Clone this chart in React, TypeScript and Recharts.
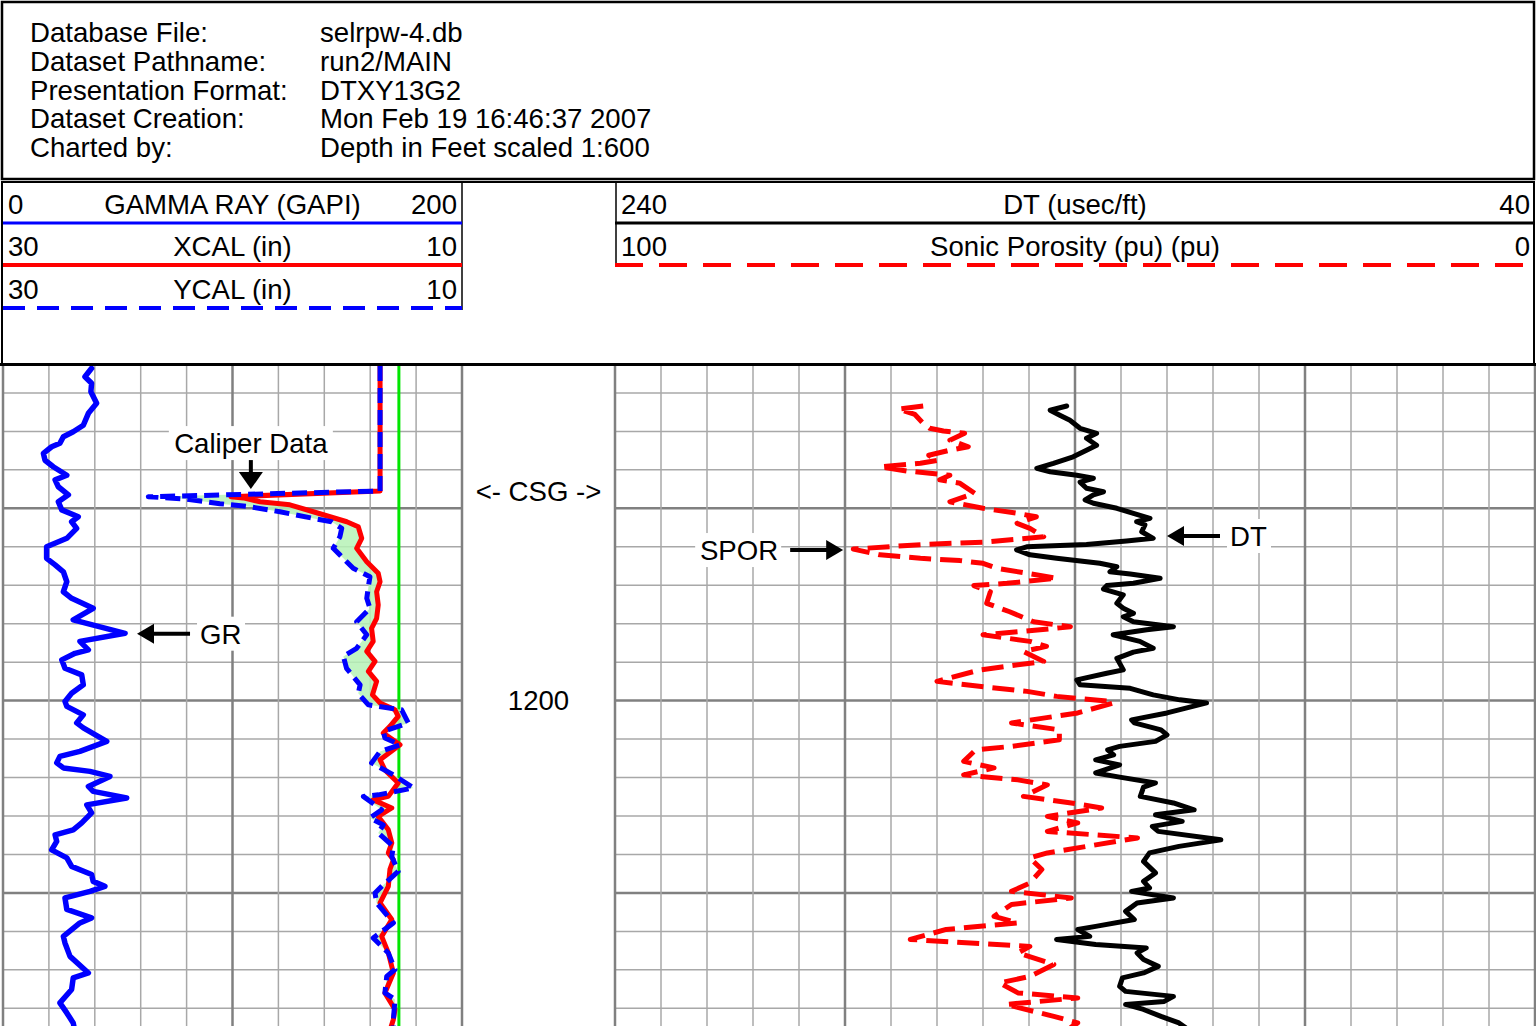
import React from 'react';
import { ScatterChart, Scatter, XAxis, YAxis, ReferenceLine, ReferenceDot } from 'recharts';

const FONT = '"Liberation Sans", Arial, Helvetica, sans-serif';
const BLUE = '#0000ff';
const RED = '#ff0000';
const GREEN = '#00e600';
const LIGHT = '#a8a8a8';
const DARK = '#808080';

// dataset header block
const headerLabels = ['Database File:', 'Dataset Pathname:', 'Presentation Format:', 'Dataset Creation:', 'Charted by:'];
const headerValues = ['selrpw-4.db', 'run2/MAIN', 'DTXY13G2', 'Mon Feb 19 16:46:37 2007', 'Depth in Feet scaled 1:600'];

// depth axis (feet)
const DEPTH_RANGE: [number, number] = [1113.0, 1284.6];
const depthTicks = [1120, 1130, 1140, 1150, 1160, 1170, 1180, 1190, 1200, 1210, 1220, 1230, 1240, 1250, 1260, 1270, 1280];
const depthMajor = [1150, 1200, 1250];
const depthNumbers = [1200];
const CASING_SHOE = 1145.5;
const BIT_SIZE = 12.75;

const grTicks = [0, 20, 40, 60, 80, 100, 120, 140, 160, 180, 200];
const grMajor = [0, 100, 200];
const dtTicks = [40, 50, 60, 70, 80, 90, 100, 110, 120, 130, 140, 150, 160, 170, 180, 190, 200, 210, 220, 230, 240];
const dtMajor = [40, 90, 140, 190, 240];

// [depth, value]
const grLog = [
  [1113.6, 38.6], [1115.8, 35.7], [1117.5, 38.6], [1119.7, 38.3], [1122.7, 40.8], [1125.3, 37.2], [1128.4, 35.0],
  [1130.1, 30.6], [1131.4, 26.3], [1133.1, 24.8], [1134.0, 21.2], [1135.7, 17.6], [1137.5, 18.3], [1139.2, 21.9],
  [1141.4, 27.8], [1142.6, 22.7], [1144.4, 24.1], [1146.5, 28.5], [1148.3, 24.1], [1150.4, 25.6], [1152.2, 32.8],
  [1153.5, 29.9], [1155.2, 32.1], [1157.8, 27.8], [1160.0, 19.0], [1163.0, 19.0], [1164.7, 22.7], [1166.5, 26.3],
  [1169.1, 27.8], [1171.7, 26.3], [1173.4, 29.9], [1176.0, 39.3], [1179.0, 30.6], [1182.5, 53.2], [1184.6, 33.5],
  [1186.8, 37.2], [1187.7, 31.4], [1189.4, 25.6], [1191.6, 27.0], [1193.3, 34.3], [1195.9, 35.0], [1198.1, 29.9],
  [1200.2, 27.0], [1201.5, 27.8], [1203.7, 35.0], [1205.8, 32.1], [1207.1, 35.0], [1210.6, 45.2], [1213.2, 33.5],
  [1214.5, 24.8], [1216.2, 23.4], [1217.5, 26.3], [1218.4, 37.9], [1219.7, 46.6], [1222.3, 37.2], [1223.6, 39.3],
  [1225.3, 53.9], [1227.1, 36.5], [1229.2, 38.6], [1231.8, 34.3], [1233.6, 30.6], [1234.9, 22.7], [1236.6, 23.4],
  [1238.8, 21.2], [1240.9, 27.8], [1243.1, 29.9], [1245.2, 38.6], [1247.0, 39.3], [1248.3, 44.4], [1249.6, 37.9],
  [1251.3, 27.0], [1254.3, 27.8], [1256.5, 38.6], [1257.8, 33.5], [1261.3, 26.3], [1263.0, 27.0], [1266.5, 29.2],
  [1270.8, 37.2], [1272.1, 30.6], [1275.1, 29.9], [1278.6, 24.8], [1281.2, 27.8], [1283.8, 30.6], [1285.0, 31.0],
];

const xcalLog = [
  [1113.0, 13.57], [1145.5, 13.57], [1147.0, 20.07], [1147.3, 19.53], [1148.3, 18.8], [1149.1, 17.5], [1150.9, 16.48],
  [1152.2, 15.75], [1153.5, 15.02], [1154.8, 14.52], [1157.8, 14.37], [1160.4, 14.59], [1163.9, 14.15], [1166.9, 13.65],
  [1169.1, 13.57], [1171.7, 13.72], [1175.1, 13.65], [1178.6, 13.72], [1181.2, 13.94], [1184.6, 13.87], [1187.2, 14.15],
  [1189.8, 13.79], [1192.4, 14.08], [1195.0, 13.72], [1198.5, 13.9], [1200.6, 13.57], [1202.4, 12.92], [1204.1, 12.78],
  [1206.7, 13.14], [1208.4, 13.43], [1211.5, 12.7], [1215.4, 13.57], [1218.0, 13.36], [1221.4, 12.78], [1224.9, 13.21],
  [1225.8, 13.87], [1227.9, 13.06], [1230.1, 13.65], [1233.6, 13.21], [1237.0, 13.06], [1239.6, 13.21], [1241.4, 12.99],
  [1243.9, 13.14], [1248.3, 13.21], [1252.6, 13.57], [1256.9, 13.06], [1261.3, 13.5], [1265.6, 13.21], [1270.8, 12.99],
  [1276.0, 13.36], [1280.3, 12.92], [1282.9, 12.99], [1285.0, 13.1],
];

const ycalLog = [
  [1113.0, 13.57], [1145.5, 13.57], [1147.0, 23.67], [1147.6, 22.0], [1148.8, 20.55], [1149.6, 19.24], [1150.9, 17.93],
  [1152.8, 16.33], [1153.5, 15.68], [1155.2, 15.24], [1157.4, 15.32], [1160.4, 15.61], [1162.1, 15.32], [1165.6, 14.74],
  [1167.8, 14.01], [1170.4, 14.08], [1173.4, 14.15], [1176.0, 14.01], [1179.5, 14.59], [1182.9, 14.15], [1186.4, 14.59],
  [1188.5, 15.17], [1191.6, 15.03], [1195.9, 14.44], [1198.1, 14.52], [1201.1, 14.08], [1202.4, 12.63], [1205.8, 12.34],
  [1208.0, 13.43], [1209.7, 13.36], [1211.5, 12.7], [1213.2, 13.57], [1216.2, 13.94], [1219.3, 12.99], [1222.7, 12.12],
  [1224.5, 13.65], [1224.9, 14.3], [1228.4, 13.5], [1230.5, 14.01], [1232.3, 13.43], [1234.4, 13.65], [1237.9, 12.99],
  [1240.5, 13.06], [1244.4, 12.78], [1248.3, 13.5], [1250.0, 13.79], [1252.6, 13.72], [1257.8, 12.99], [1261.7, 13.87],
  [1265.6, 13.21], [1269.9, 12.92], [1271.7, 13.28], [1276.0, 13.36], [1277.7, 12.92], [1282.9, 12.99], [1285.0, 13.0],
];

const dtLog = [
  [1123.4, 141.8], [1124.5, 145.4], [1125.8, 143.3], [1127.1, 141.1], [1129.2, 138.9], [1130.5, 135.3], [1131.8, 137.5],
  [1133.6, 135.3], [1134.9, 137.5], [1136.6, 140.4], [1138.3, 144.7], [1139.6, 148.3], [1140.5, 145.4], [1141.4, 139.6],
  [1142.2, 136.0], [1143.2, 138.9], [1144.8, 137.5], [1145.7, 133.8], [1146.5, 136.0], [1147.8, 137.8], [1148.7, 136.0],
  [1150.0, 130.9], [1151.3, 127.3], [1152.6, 123.7], [1153.5, 126.6], [1154.3, 124.8], [1156.1, 125.5], [1157.8, 123.0],
  [1158.5, 128.8], [1159.4, 137.5], [1160.0, 150.5], [1160.8, 152.7], [1162.1, 149.8], [1163.0, 144.0], [1164.3, 134.6],
  [1165.2, 130.9], [1166.5, 132.4], [1167.1, 128.0], [1168.2, 121.5], [1169.5, 127.3], [1170.1, 133.1], [1171.0, 133.8],
  [1172.5, 129.5], [1174.7, 130.9], [1176.0, 129.5], [1177.3, 127.3], [1178.2, 129.5], [1179.5, 127.3], [1180.8, 118.6],
  [1181.6, 124.4], [1182.9, 131.7], [1184.6, 125.9], [1186.4, 123.0], [1187.4, 127.3], [1189.0, 130.9], [1192.0, 129.5],
  [1192.9, 133.1], [1194.6, 139.6], [1195.9, 138.9], [1196.8, 128.0], [1198.5, 123.0], [1199.8, 117.2], [1200.6, 111.4],
  [1202.4, 117.4], [1203.2, 120.0], [1205.0, 127.7], [1205.8, 127.1], [1207.6, 121.3], [1208.9, 120.0], [1210.6, 122.5],
  [1211.9, 130.3], [1212.8, 132.9], [1214.1, 131.6], [1215.4, 135.5], [1216.7, 130.3], [1218.8, 135.5], [1219.9, 130.3],
  [1221.4, 122.5], [1222.5, 125.1], [1224.9, 125.8], [1226.6, 118.6], [1228.4, 114.1], [1229.7, 122.5], [1231.4, 116.7],
  [1232.7, 123.2], [1234.0, 121.9], [1236.2, 108.3], [1237.9, 117.4], [1239.6, 123.8], [1241.8, 125.1], [1244.8, 122.5],
  [1247.0, 125.1], [1248.7, 123.8], [1249.6, 127.7], [1251.3, 118.6], [1252.6, 126.5], [1254.8, 129.0], [1256.9, 127.1],
  [1258.7, 135.5], [1259.5, 139.4], [1261.3, 136.8], [1262.1, 144.0], [1263.4, 135.5], [1264.3, 124.5], [1265.6, 126.5],
  [1267.3, 125.1], [1269.1, 121.9], [1270.8, 125.1], [1272.1, 129.7], [1274.3, 130.3], [1275.6, 129.0], [1276.9, 118.6],
  [1278.2, 120.6], [1279.0, 129.0], [1280.3, 125.1], [1282.1, 121.3], [1283.8, 117.4], [1285.0, 116.0],
];

const sporLog = [
  [1123.4, 66.5], [1124.2, 69.2], [1125.6, 67.4], [1127.9, 66.5], [1129.2, 65.8], [1129.9, 64.3], [1130.5, 62.0],
  [1132.3, 63.6], [1134.0, 61.6], [1134.9, 63.6], [1136.2, 65.9], [1137.5, 64.9], [1138.3, 66.8], [1139.2, 71.2],
  [1140.3, 68.3], [1141.4, 63.6], [1142.6, 64.7], [1143.5, 62.5], [1146.1, 60.9], [1148.3, 63.6], [1150.0, 60.0],
  [1151.3, 56.3], [1152.2, 54.2], [1153.9, 56.3], [1155.2, 54.9], [1157.4, 53.4], [1158.8, 60.0], [1159.4, 66.5],
  [1160.6, 74.1], [1162.1, 71.2], [1163.0, 66.8], [1163.6, 62.5], [1164.3, 60.0], [1165.6, 58.5], [1166.9, 55.2],
  [1168.2, 52.0], [1169.5, 57.4], [1170.1, 61.0], [1171.7, 59.2], [1174.7, 59.6], [1176.9, 57.1], [1179.5, 54.5],
  [1180.8, 50.5], [1181.6, 53.8], [1182.9, 60.0], [1184.6, 54.9], [1185.9, 53.1], [1187.2, 55.6], [1189.8, 53.4],
  [1192.0, 60.3], [1195.0, 65.0], [1196.6, 59.2], [1197.6, 55.2], [1198.9, 52.0], [1200.2, 46.2], [1200.6, 45.8],
  [1203.2, 49.7], [1205.8, 56.9], [1207.6, 51.7], [1210.2, 51.7], [1211.9, 56.9], [1212.8, 60.8], [1215.8, 62.1],
  [1217.5, 58.8], [1219.3, 62.1], [1220.6, 56.2], [1221.9, 53.0], [1224.9, 55.6], [1226.6, 50.4], [1227.9, 47.1],
  [1230.1, 53.0], [1231.8, 49.7], [1234.0, 53.0], [1235.7, 43.2], [1239.6, 53.0], [1240.9, 54.9], [1243.9, 53.6],
  [1247.4, 54.9], [1249.6, 56.9], [1251.3, 50.4], [1253.0, 56.9], [1256.1, 58.8], [1257.8, 56.2], [1259.5, 64.0],
  [1262.1, 67.9], [1263.9, 54.9], [1265.6, 56.2], [1268.6, 52.3], [1271.7, 54.9], [1273.4, 58.2], [1276.0, 56.2],
  [1277.3, 49.7], [1279.0, 57.5], [1282.1, 52.3], [1283.8, 49.7], [1285.0, 50.5],
];

const toPts = (rows: number[][]) => rows.map(([depth, value]) => ({ depth, value }));
const grPts = toPts(grLog);
const xcalPts = toPts(xcalLog);
const ycalPts = toPts(ycalLog);
const dtPts = toPts(dtLog);
const sporPts = toPts(sporLog);
// closed outline between the two calipers, for the green borehole shading
const caliperBand = [...xcalPts, ...[...ycalPts].reverse()];

// page layout
const PLOT_TOP = 366;
const PLOT_BOTTOM = 1026;
const PAD = 4;
const TRACK1 = { left: 3, right: 462 };
const DEPTH_TRACK = { left: 462, right: 615 };
const TRACK2 = { left: 615, right: 1535 };

const FS = 27.6;
const TEXT = { fontFamily: FONT, fontSize: FS, fill: '#000' };
const BASE = FS * 0.358;
const noDot = () => <g />;

function Plot({ track, children }: { track: { left: number; right: number }; children: React.ReactNode }) {
  return (
    <div style={{ position: 'absolute', left: track.left - PAD, top: PLOT_TOP - PAD }}>
      <ScatterChart
        width={track.right - track.left + 2 * PAD}
        height={PLOT_BOTTOM - PLOT_TOP + 2 * PAD}
        margin={{ top: PAD, right: PAD, bottom: PAD, left: PAD }}
      >
        {children}
      </ScatterChart>
    </div>
  );
}

const depthAxis = (
  <YAxis type="number" dataKey="depth" domain={DEPTH_RANGE} reversed hide allowDataOverflow />
);

function gridLines(axisId: string, ticks: number[], major: number[]) {
  const rows = depthTicks.map((d) => (
    <ReferenceLine
      key={`h${d}`}
      xAxisId={axisId}
      y={d}
      stroke={depthMajor.includes(d) ? DARK : LIGHT}
      strokeWidth={depthMajor.includes(d) ? 2.5 : 1.5}
    />
  ));
  const cols = ticks.map((t) => (
    <ReferenceLine
      key={`v${t}`}
      xAxisId={axisId}
      x={t}
      stroke={major.includes(t) ? DARK : LIGHT}
      strokeWidth={major.includes(t) ? 2.5 : 1.5}
    />
  ));
  return [...rows, ...cols];
}

// style for a log curve drawn as the connecting line of a Scatter series
const curve = (color: string, width: number, dash?: string) => ({
  stroke: color,
  strokeWidth: width,
  strokeDasharray: dash,
  strokeLinejoin: 'round' as const,
  strokeLinecap: dash ? ('butt' as const) : ('round' as const),
  fill: 'none',
});

function ArrowLeft(props: any) {
  const { cx, cy, text, textWidth } = props;
  const tail = cx + 53;
  const tx = tail + 10;
  return (
    <g>
      <rect x={tx - 3} y={cy - 17} width={textWidth + 6} height={34} fill="#fff" />
      <line x1={cx + 12} y1={cy} x2={tail} y2={cy} stroke="#000" strokeWidth={4} />
      <polygon points={`${cx},${cy} ${cx + 17},${cy - 10} ${cx + 17},${cy + 10}`} fill="#000" />
      <text x={tx} y={cy + BASE} {...TEXT}>{text}</text>
    </g>
  );
}

function ArrowRight(props: any) {
  const { cx, cy, text, textWidth } = props;
  const tail = cx - 53;
  const tx = tail - 12;
  return (
    <g>
      <rect x={tx - textWidth - 3} y={cy - 17} width={textWidth + 6} height={34} fill="#fff" />
      <line x1={tail} y1={cy} x2={cx - 12} y2={cy} stroke="#000" strokeWidth={4} />
      <polygon points={`${cx},${cy} ${cx - 17},${cy - 10} ${cx - 17},${cy + 10}`} fill="#000" />
      <text x={tx} y={cy + BASE} textAnchor="end" {...TEXT}>{text}</text>
    </g>
  );
}

function ArrowDown(props: any) {
  const { cx, cy, text, textWidth } = props;
  const ty = cy - 46;
  return (
    <g>
      <rect x={cx - textWidth / 2 - 3} y={ty - 17} width={textWidth + 6} height={34} fill="#fff" />
      <line x1={cx} y1={cy - 29} x2={cx} y2={cy - 12} stroke="#000" strokeWidth={4} />
      <polygon points={`${cx},${cy} ${cx - 12},${cy - 17} ${cx + 12},${cy - 17}`} fill="#000" />
      <text x={cx} y={ty + BASE} textAnchor="middle" {...TEXT}>{text}</text>
    </g>
  );
}

function CenterText(props: any) {
  const { cx, cy, text } = props;
  return (
    <text x={cx} y={cy + BASE} textAnchor="middle" {...TEXT}>{text}</text>
  );
}

function Header() {
  const t1Mid = (TRACK1.left + TRACK1.right) / 2;
  const t2Mid = (TRACK2.left + TRACK2.right) / 2;
  return (
    <svg width={1536} height={366} style={{ position: 'absolute', left: 0, top: 0 }}>
      <rect x={2} y={2} width={1532} height={177} fill="none" stroke="#000" strokeWidth={2.5} />
      <rect x={2} y={182} width={1532} height={182} fill="none" stroke="#000" strokeWidth={2} />
      <line x1={0} y1={364.5} x2={1536} y2={364.5} stroke="#000" strokeWidth={3} />
      {headerLabels.map((l, i) => (
        <text key={l} x={30} y={42 + i * 28.8} {...TEXT}>{l}</text>
      ))}
      {headerValues.map((v, i) => (
        <text key={v} x={320} y={42 + i * 28.8} {...TEXT}>{v}</text>
      ))}

      <line x1={462} y1={182} x2={462} y2={310} stroke="#000" strokeWidth={1.5} />
      <line x1={616} y1={182} x2={616} y2={267} stroke="#000" strokeWidth={1.5} />

      <text x={8} y={214} {...TEXT}>0</text>
      <text x={t1Mid} y={214} textAnchor="middle" {...TEXT}>GAMMA RAY (GAPI)</text>
      <text x={457} y={214} textAnchor="end" {...TEXT}>200</text>
      <line x1={3} y1={223} x2={462} y2={223} stroke={BLUE} strokeWidth={3} />

      <text x={8} y={256} {...TEXT}>30</text>
      <text x={t1Mid} y={256} textAnchor="middle" {...TEXT}>XCAL (in)</text>
      <text x={457} y={256} textAnchor="end" {...TEXT}>10</text>
      <line x1={3} y1={265} x2={462} y2={265} stroke={RED} strokeWidth={4} />

      <text x={8} y={299} {...TEXT}>30</text>
      <text x={t1Mid} y={299} textAnchor="middle" {...TEXT}>YCAL (in)</text>
      <text x={457} y={299} textAnchor="end" {...TEXT}>10</text>
      <line x1={3} y1={308} x2={462} y2={308} stroke={BLUE} strokeWidth={4} strokeDasharray="22 12" />

      <text x={621} y={214} {...TEXT}>240</text>
      <text x={t2Mid} y={214} textAnchor="middle" {...TEXT}>DT (usec/ft)</text>
      <text x={1530} y={214} textAnchor="end" {...TEXT}>40</text>
      <line x1={615} y1={223} x2={1535} y2={223} stroke="#000" strokeWidth={3} />

      <text x={621} y={256} {...TEXT}>100</text>
      <text x={t2Mid} y={256} textAnchor="middle" {...TEXT}>Sonic Porosity (pu) (pu)</text>
      <text x={1530} y={256} textAnchor="end" {...TEXT}>0</text>
      <line x1={615} y1={265} x2={1535} y2={265} stroke={RED} strokeWidth={4} strokeDasharray="28 16" />
    </svg>
  );
}

export default function App() {
  return (
    <div
      style={{
        position: 'absolute',
        left: 0,
        top: 0,
        width: 1536,
        height: 1026,
        overflow: 'hidden',
        background: '#fff',
        fontFamily: FONT,
      }}
    >
      <Header />

      {/* track 1: grid layer */}
      <Plot track={TRACK1}>
        <XAxis xAxisId="gr" type="number" dataKey="value" domain={[0, 200]} hide allowDataOverflow />
        {depthAxis}
        {gridLines('gr', grTicks, grMajor)}
      </Plot>

      {/* track 1: curves */}
      <Plot track={TRACK1}>
        <XAxis xAxisId="gr" type="number" dataKey="value" domain={[0, 200]} hide allowDataOverflow />
        <XAxis xAxisId="cal" type="number" dataKey="value" domain={[10, 30]} reversed hide allowDataOverflow />
        {depthAxis}
        <Scatter
          xAxisId="cal"
          data={caliperBand}
          fill="#b6f2b6"
          line={{ stroke: 'none', fill: '#b6f2b6', fillOpacity: 0.85 }}
          shape={noDot}
          isAnimationActive={false}
        />
        <Scatter
          xAxisId="gr"
          data={grPts}
          fill={BLUE}
          strokeWidth={5.5}
          line={curve(BLUE, 5.5)}
          shape={noDot}
          isAnimationActive={false}
        />
        <Scatter
          xAxisId="cal"
          data={xcalPts}
          fill={RED}
          strokeWidth={5}
          line={curve(RED, 5)}
          shape={noDot}
          isAnimationActive={false}
        />
        <Scatter
          xAxisId="cal"
          data={ycalPts}
          fill={BLUE}
          strokeWidth={5}
          line={curve(BLUE, 5, '15 7')}
          shape={noDot}
          isAnimationActive={false}
        />
        <ReferenceLine xAxisId="cal" x={BIT_SIZE} stroke={GREEN} strokeWidth={3} />
        <ReferenceDot
          xAxisId="gr"
          x={58.4}
          y={1182.6}
          shape={(p: any) => <ArrowLeft {...p} text="GR" textWidth={42} />}
        />
        <ReferenceDot
          xAxisId="cal"
          x={19.2}
          y={1145.0}
          shape={(p: any) => <ArrowDown {...p} text="Caliper Data" textWidth={158} />}
        />
      </Plot>

      {/* depth track */}
      <Plot track={DEPTH_TRACK}>
        <XAxis xAxisId="d" type="number" dataKey="value" domain={[0, 1]} hide allowDataOverflow />
        {depthAxis}
        <ReferenceDot
          xAxisId="d"
          x={0.5}
          y={CASING_SHOE}
          shape={(p: any) => <CenterText {...p} text="<- CSG ->" />}
        />
        {depthNumbers.map((d) => (
          <ReferenceDot
            key={d}
            xAxisId="d"
            x={0.5}
            y={d}
            shape={(p: any) => <CenterText {...p} text={String(d)} />}
          />
        ))}
      </Plot>

      {/* track 2: grid layer */}
      <Plot track={TRACK2}>
        <XAxis xAxisId="dt" type="number" dataKey="value" domain={[40, 240]} reversed hide allowDataOverflow />
        {depthAxis}
        {gridLines('dt', dtTicks, dtMajor)}
      </Plot>

      {/* track 2: curves */}
      <Plot track={TRACK2}>
        <XAxis xAxisId="dt" type="number" dataKey="value" domain={[40, 240]} reversed hide allowDataOverflow />
        <XAxis xAxisId="spor" type="number" dataKey="value" domain={[0, 100]} reversed hide allowDataOverflow />
        {depthAxis}
        <Scatter
          xAxisId="spor"
          data={sporPts}
          fill={RED}
          strokeWidth={5}
          line={curve(RED, 5, '22 9')}
          shape={noDot}
          isAnimationActive={false}
        />
        <Scatter
          xAxisId="dt"
          data={dtPts}
          fill="#000"
          strokeWidth={5}
          line={curve('#000', 5)}
          shape={noDot}
          isAnimationActive={false}
        />
        <ReferenceDot
          xAxisId="spor"
          x={75.2}
          y={1160.85}
          shape={(p: any) => <ArrowRight {...p} text="SPOR" textWidth={80} />}
        />
        <ReferenceDot
          xAxisId="dt"
          x={120}
          y={1157.2}
          shape={(p: any) => <ArrowLeft {...p} text="DT" textWidth={38} />}
        />
      </Plot>
    </div>
  );
}
